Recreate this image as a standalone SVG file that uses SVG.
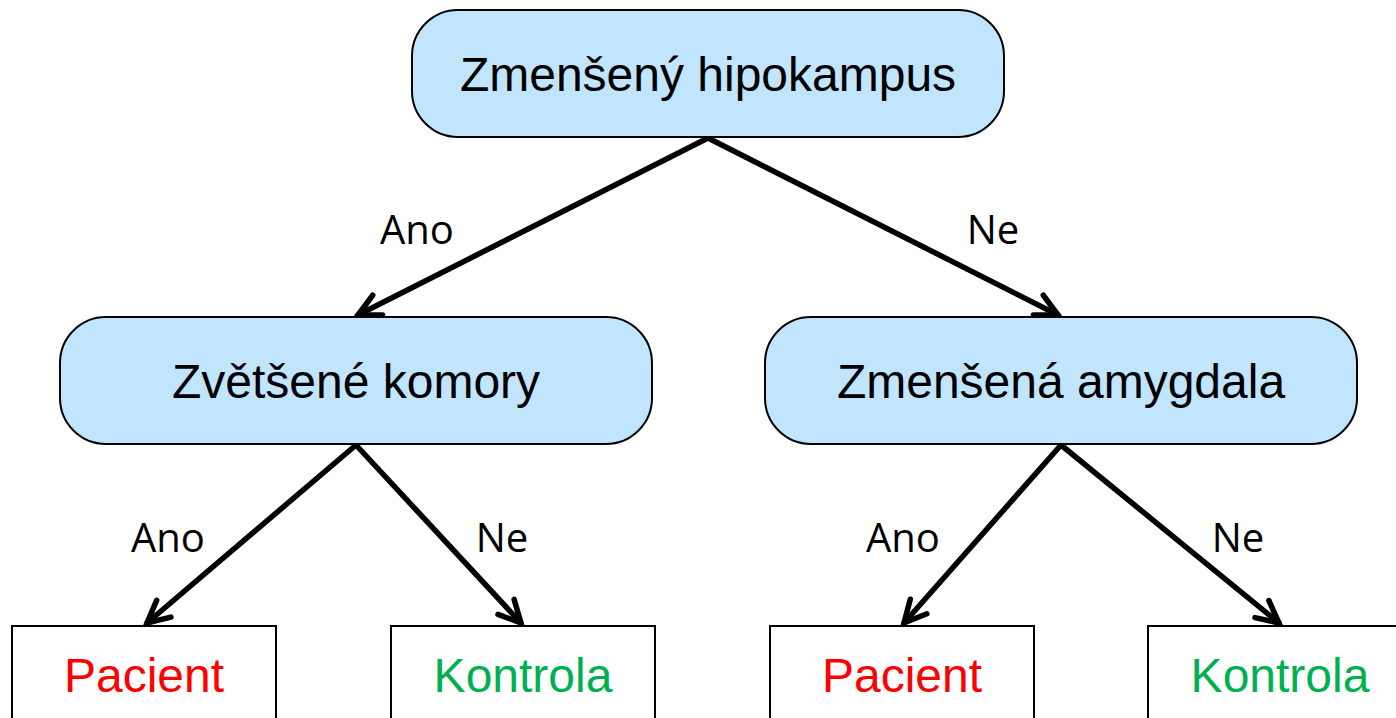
<svg xmlns="http://www.w3.org/2000/svg" width="1396" height="718" viewBox="0 0 1396 718">
<style>
.dec{fill:#c0e5fd;stroke:#000;stroke-width:2}
.leaf{fill:#fff;stroke:#000;stroke-width:2}
.t{font-family:"Liberation Sans",Arial,sans-serif;font-size:48px;text-anchor:middle}
.lbl{font-family:"Open Sans","DejaVu Sans",sans-serif;font-size:40px;text-anchor:middle;fill:#000}
.edge{stroke:#000;stroke-width:5.5;fill:none;stroke-linecap:round;marker-end:url(#arr)}
</style>
<defs>
<marker id="arr" markerUnits="userSpaceOnUse" markerWidth="40" markerHeight="40" viewBox="-30 -20 40 40" refX="0" refY="0" orient="auto">
<path d="M-22,-11 L0,0 L-22,11" fill="none" stroke="#000" stroke-width="5.5" stroke-linecap="round" stroke-linejoin="miter"/>
</marker>
</defs>
<rect width="1396" height="718" fill="#fff"/>
<g id="connectors">
<line class="edge" x1="708" y1="138" x2="358" y2="315"/>
<line class="edge" x1="708" y1="138" x2="1058" y2="315"/>
<line class="edge" x1="356" y1="445" x2="147" y2="623"/>
<line class="edge" x1="356" y1="445" x2="521" y2="623"/>
<line class="edge" x1="1061" y1="445" x2="904" y2="623"/>
<line class="edge" x1="1061" y1="445" x2="1279" y2="623"/>
<text class="lbl" x="417" y="244">Ano</text>
<text class="lbl" x="993" y="244">Ne</text>
<text class="lbl" x="168" y="552">Ano</text>
<text class="lbl" x="502" y="552">Ne</text>
<text class="lbl" x="903" y="552">Ano</text>
<text class="lbl" x="1238" y="552">Ne</text>
</g>
<g id="root">
<rect class="dec" x="412" y="10" width="592" height="127" rx="46" ry="46"/>
<text class="t" x="708" y="91">Zmenšený hipokampus</text>
</g>
<g id="left">
<rect class="dec" x="60" y="317" width="592" height="127" rx="46" ry="46"/>
<text class="t" x="356" y="398">Zvětšené komory</text>
</g>
<g id="right">
<rect class="dec" x="765" y="317" width="592" height="127" rx="46" ry="46"/>
<text class="t" x="1061" y="398">Zmenšená amygdala</text>
</g>
<g id="leaf1">
<rect class="leaf" x="12" y="626" width="264" height="110"/>
<text class="t" x="144" y="692" fill="#ff0000">Pacient</text>
</g>
<g id="leaf2">
<rect class="leaf" x="391" y="626" width="264" height="110"/>
<text class="t" x="523" y="692" fill="#00b050">Kontrola</text>
</g>
<g id="leaf3">
<rect class="leaf" x="770" y="626" width="264" height="110"/>
<text class="t" x="902" y="692" fill="#ff0000">Pacient</text>
</g>
<g id="leaf4">
<rect class="leaf" x="1148" y="626" width="264" height="110"/>
<text class="t" x="1280" y="692" fill="#00b050">Kontrola</text>
</g>
</svg>
